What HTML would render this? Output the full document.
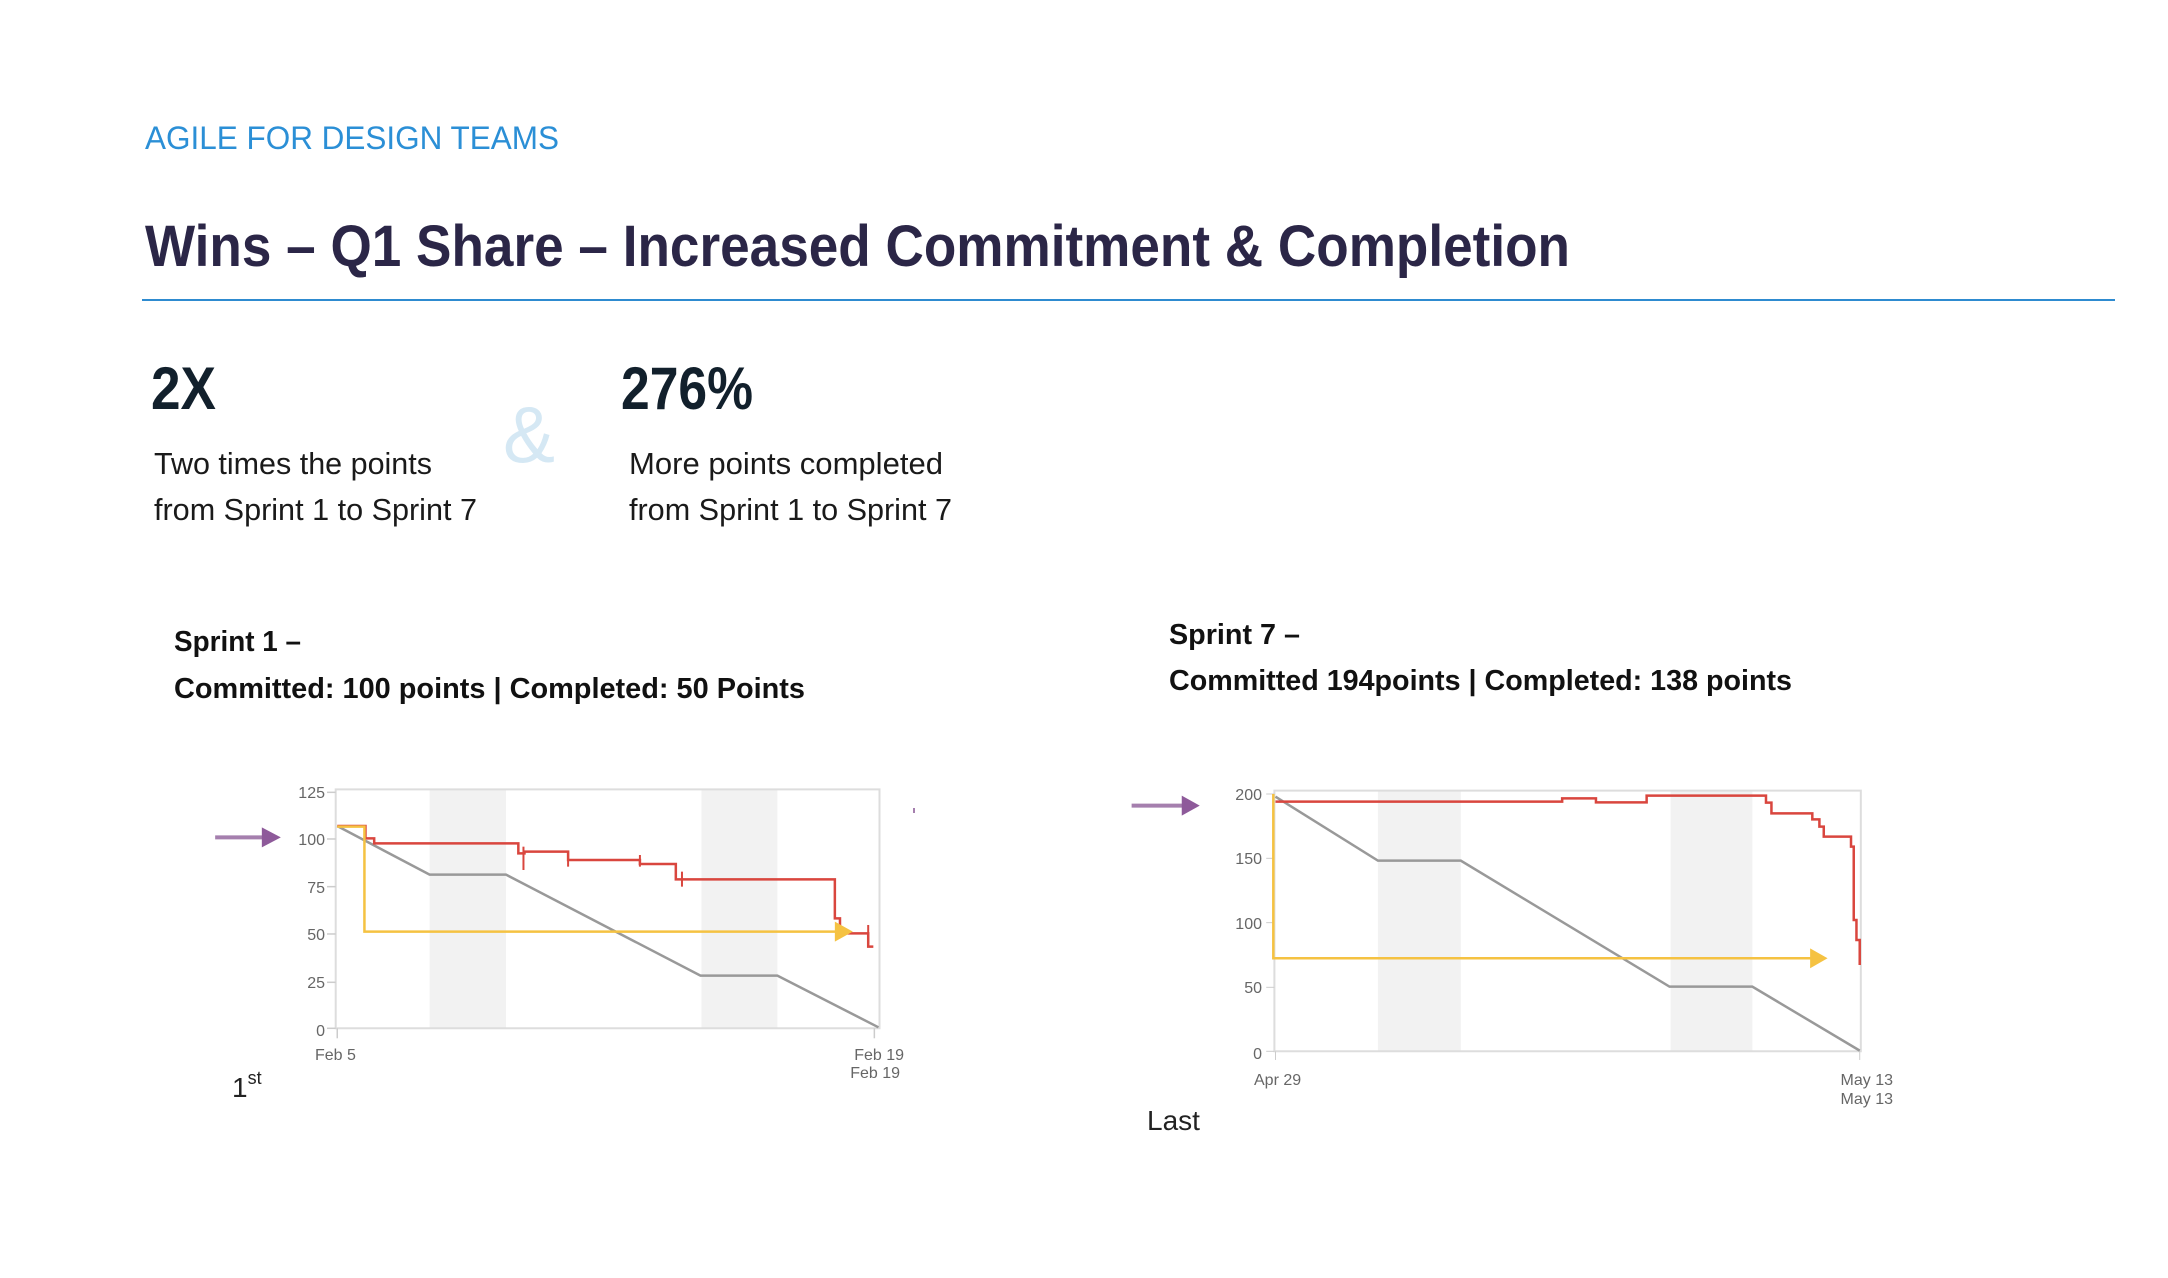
<!DOCTYPE html>
<html><head><meta charset="utf-8"><style>
html,body{margin:0;padding:0;background:#fff;overflow:hidden;}
svg{display:block;}
</style></head><body>
<svg width="2168" height="1278" viewBox="0 0 2168 1278" xmlns="http://www.w3.org/2000/svg" font-family="Liberation Sans, sans-serif">
<rect width="2168" height="1278" fill="#fff"/>
<text x="145" y="149" font-size="32" fill="#2b8fd6" textLength="414" lengthAdjust="spacingAndGlyphs">AGILE FOR DESIGN TEAMS</text>
<text x="145" y="266" font-size="58" font-weight="bold" fill="#2b2647" textLength="1425" lengthAdjust="spacingAndGlyphs">Wins – Q1 Share – Increased Commitment &amp; Completion</text>
<rect x="142" y="299" width="1973" height="2" fill="#2e8bd0"/>
<text x="151" y="409" font-size="60" font-weight="bold" fill="#12202c" textLength="65" lengthAdjust="spacingAndGlyphs">2X</text>
<text x="621" y="409" font-size="60" font-weight="bold" fill="#12202c" textLength="132" lengthAdjust="spacingAndGlyphs">276%</text>
<text x="503" y="462" font-size="80" fill="#d5e8f4" textLength="52" lengthAdjust="spacingAndGlyphs">&amp;</text>
<text x="154" y="474" font-size="31" fill="#1a1a1a" textLength="278" lengthAdjust="spacingAndGlyphs">Two times the points</text>
<text x="154" y="520" font-size="31" fill="#1a1a1a" textLength="323" lengthAdjust="spacingAndGlyphs">from Sprint 1 to Sprint 7</text>
<text x="629" y="474" font-size="31" fill="#1a1a1a" textLength="314" lengthAdjust="spacingAndGlyphs">More points completed</text>
<text x="629" y="520" font-size="31" fill="#1a1a1a" textLength="323" lengthAdjust="spacingAndGlyphs">from Sprint 1 to Sprint 7</text>
<text x="174" y="651" font-size="29" font-weight="bold" fill="#111" textLength="127" lengthAdjust="spacingAndGlyphs">Sprint 1 –</text>
<text x="174" y="698" font-size="29" font-weight="bold" fill="#111" textLength="631" lengthAdjust="spacingAndGlyphs">Committed: 100 points | Completed: 50 Points</text>
<text x="1169" y="644" font-size="29" font-weight="bold" fill="#111" textLength="131" lengthAdjust="spacingAndGlyphs">Sprint 7 –</text>
<text x="1169" y="690" font-size="29" font-weight="bold" fill="#111" textLength="623" lengthAdjust="spacingAndGlyphs">Committed 194points | Completed: 138 points</text>

<!-- Chart 1 -->
<g transform="translate(150,740) scale(0.513,0.3333)">
<rect x="545" y="148" width="149" height="717" fill="#f2f2f2"/>
<rect x="1075" y="148" width="148" height="717" fill="#f2f2f2"/>
<rect x="362" y="148" width="1060" height="717" fill="none" stroke="#ddd" stroke-width="2" vector-effect="non-scaling-stroke"/>
<g stroke="#ccc" stroke-width="1.5"><line x1="345" y1="157" x2="362" y2="157" vector-effect="non-scaling-stroke"/><line x1="345" y1="297" x2="362" y2="297" vector-effect="non-scaling-stroke"/><line x1="345" y1="440" x2="362" y2="440" vector-effect="non-scaling-stroke"/><line x1="345" y1="582" x2="362" y2="582" vector-effect="non-scaling-stroke"/><line x1="345" y1="727" x2="362" y2="727" vector-effect="non-scaling-stroke"/><line x1="345" y1="865" x2="362" y2="865" vector-effect="non-scaling-stroke"/><line x1="365" y1="865" x2="365" y2="895" vector-effect="non-scaling-stroke"/><line x1="1412" y1="865" x2="1412" y2="895" vector-effect="non-scaling-stroke"/></g>
<polyline points="365,258 545,404 694,404 1073,707 1223,707 1420,862" fill="none" stroke="#999" stroke-width="2.5" vector-effect="non-scaling-stroke"/>
<path d="M365,258 H420 V295 H437 V310 H718 V340 H730 V335 H815 V360 H955 V372 H1025 V418 H1335 V535 H1345 V580 H1400 V620 H1410" fill="none" stroke="#d9463e" stroke-width="2.5" vector-effect="non-scaling-stroke"/>
<g stroke="#d9463e" stroke-width="2"><line x1="728" y1="320" x2="728" y2="390" vector-effect="non-scaling-stroke"/><line x1="815" y1="335" x2="815" y2="380" vector-effect="non-scaling-stroke"/><line x1="955" y1="345" x2="955" y2="380" vector-effect="non-scaling-stroke"/><line x1="1037" y1="395" x2="1037" y2="440" vector-effect="non-scaling-stroke"/><line x1="1400" y1="555" x2="1400" y2="610" vector-effect="non-scaling-stroke"/></g>
<path d="M365,260 H418 V575 H1340" fill="none" stroke="#f5c242" stroke-width="2.5" vector-effect="non-scaling-stroke"/>
<polygon points="1335,545 1370,575 1335,605" fill="#f5c242"/>
<line x1="127" y1="292" x2="222" y2="292" stroke="#a57fae" stroke-width="4" vector-effect="non-scaling-stroke"/>
<polygon points="218,262 255,292 218,322" fill="#8e5a9a"/>
</g>
<g font-size="16" fill="#666" text-anchor="end">
<text x="325" y="798">125</text><text x="325" y="845">100</text><text x="325" y="893">75</text>
<text x="325" y="940">50</text><text x="325" y="988">25</text><text x="325" y="1036">0</text>
</g>
<g font-size="16" fill="#666"><text x="315" y="1060">Feb 5</text><text x="904" y="1060" text-anchor="end">Feb 19</text><text x="900" y="1078" text-anchor="end">Feb 19</text></g>
<rect x="913" y="808" width="2" height="5" fill="#a57fae"/>
<text x="232" y="1097" font-size="28" fill="#222">1<tspan font-size="18" dy="-13">st</tspan></text>

<!-- Chart 2 -->
<g transform="translate(1100,740) scale(0.545,0.3333)">
<rect x="510" y="152" width="152" height="782" fill="#f2f2f2"/>
<rect x="1047" y="152" width="150" height="782" fill="#f2f2f2"/>
<rect x="320" y="152" width="1076" height="782" fill="none" stroke="#ddd" stroke-width="2" vector-effect="non-scaling-stroke"/>
<g stroke="#ccc"><line x1="305" y1="162" x2="320" y2="162" vector-effect="non-scaling-stroke"/><line x1="305" y1="355" x2="320" y2="355" vector-effect="non-scaling-stroke"/><line x1="305" y1="548" x2="320" y2="548" vector-effect="non-scaling-stroke"/><line x1="305" y1="742" x2="320" y2="742" vector-effect="non-scaling-stroke"/><line x1="305" y1="934" x2="320" y2="934" vector-effect="non-scaling-stroke"/><line x1="322" y1="934" x2="322" y2="960" vector-effect="non-scaling-stroke"/><line x1="1394" y1="934" x2="1394" y2="960" vector-effect="non-scaling-stroke"/></g>
<polyline points="322,170 510,362 662,362 1045,740 1197,740 1394,932" fill="none" stroke="#999" stroke-width="2.5" vector-effect="non-scaling-stroke"/>
<path d="M322,185 H848 V175 H910 V187 H1003 V167 H1222 V188 H1232 V220 H1307 V238 H1320 V260 H1328 V290 H1378 V320 H1383 V540 H1388 V600 H1394 V675" fill="none" stroke="#d9463e" stroke-width="2.5" vector-effect="non-scaling-stroke"/>
<path d="M318,162 V655 H1310" fill="none" stroke="#f5c242" stroke-width="2.5" vector-effect="non-scaling-stroke"/>
<polygon points="1303,625 1335,655 1303,685" fill="#f5c242"/>
<line x1="58" y1="197" x2="155" y2="197" stroke="#a57fae" stroke-width="4" vector-effect="non-scaling-stroke"/>
<polygon points="150,167 183,197 150,227" fill="#8e5a9a"/>
</g>
<g font-size="16" fill="#666" text-anchor="end">
<text x="1262" y="800">200</text><text x="1262" y="864">150</text><text x="1262" y="929">100</text>
<text x="1262" y="993">50</text><text x="1262" y="1059">0</text>
</g>
<g font-size="16" fill="#666"><text x="1254" y="1085">Apr 29</text><text x="1893" y="1085" text-anchor="end">May 13</text><text x="1893" y="1104" text-anchor="end">May 13</text></g>
<text x="1147" y="1130" font-size="28" fill="#222">Last</text>
</svg>
</body></html>
